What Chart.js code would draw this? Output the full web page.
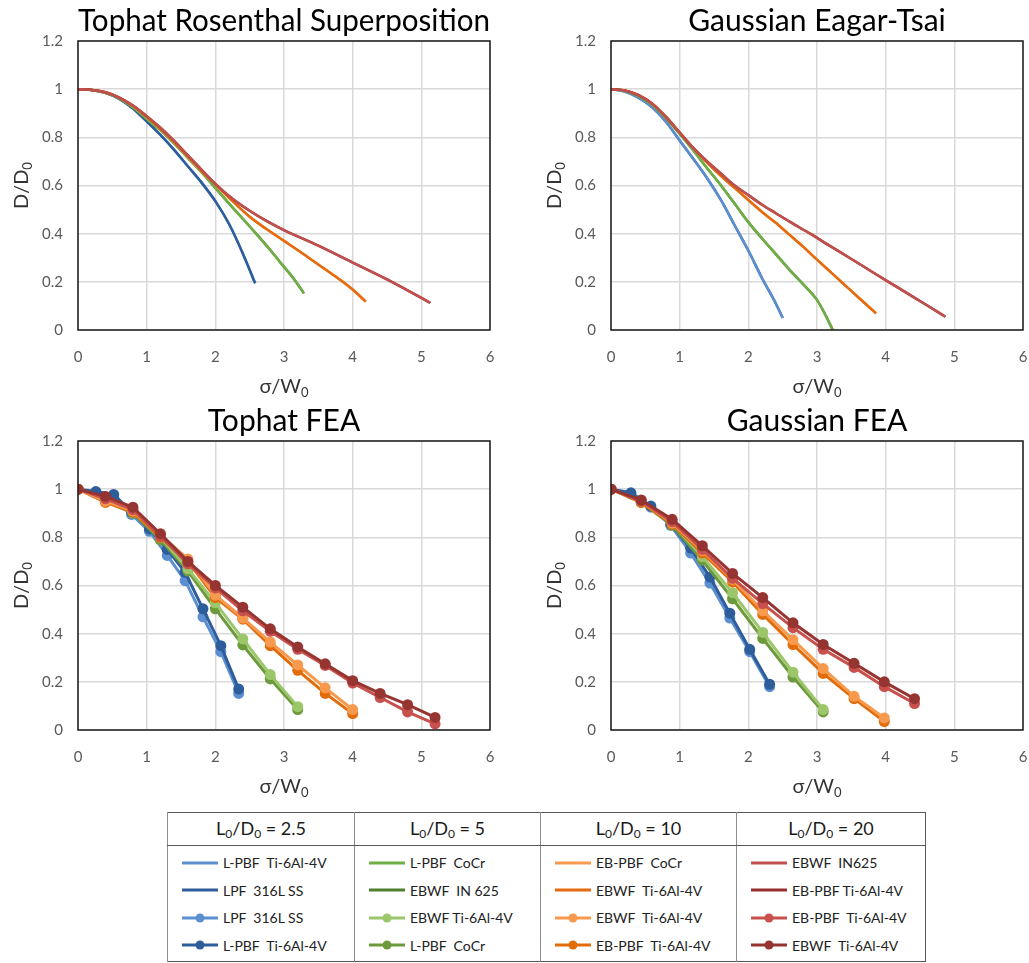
<!DOCTYPE html>
<html>
<head>
<meta charset="utf-8">
<script src="https://cdn.jsdelivr.net/npm/chart.js@4.4.1/dist/chart.umd.min.js"></script>
<style>
body { margin: 0; background: #fff; font-family: Lato, "Open Sans", sans-serif; }
#wrap { position: relative; width: 1029px; height: 963px; overflow: hidden; }
canvas { position: absolute; }
#legend { position: absolute; left: 167px; top: 812px; border-collapse: collapse; border: 1px solid #595959; }
#legend th { height: 32px; font-weight: normal; font-size: 18px; color: #1a1a1a; border-bottom: 1px solid #595959; border-left: 1px solid #8c8c8c; padding: 0; }
#legend td { vertical-align: top; border-left: 1px solid #8c8c8c; padding: 3px 0 2px 0; }
#legend sub { font-size: 12px; vertical-align: -3px; }
.item { height: 27.5px; display: flex; align-items: center; font-size: 14px; color: #222; white-space: pre; }
.item svg { margin: 0 5px 0 14px; }
</style>
</head>
<body>
<div id="wrap">
  <canvas id="c1" width="496" height="400" style="left:0;top:0"></canvas>
  <canvas id="c2" width="496" height="400" style="left:533px;top:0"></canvas>
  <canvas id="c3" width="496" height="400" style="left:0;top:400px"></canvas>
  <canvas id="c4" width="496" height="400" style="left:533px;top:400px"></canvas>
  <table id="legend">
    <thead><tr id="legHead"></tr></thead>
    <tbody><tr id="legBody"></tr></tbody>
  </table>
</div>
<script>
// axis ticks
const xTickLabels = ['0', '1', '2', '3', '4', '5', '6'];
const yTickLabels = ['0', '0.2', '0.4', '0.6', '0.8', '1', '1.2'];

// --- Tophat Rosenthal Superposition (sigma/W0 , D/D0) ---
const trsX25 = [0, 0.2, 0.4, 0.6, 0.8, 1.0, 1.2, 1.4, 1.6, 1.8, 2.0, 2.2, 2.4, 2.58];
const trsY25 = [1, 0.997, 0.985, 0.96, 0.92, 0.866, 0.81, 0.748, 0.68, 0.612, 0.535, 0.44, 0.318, 0.194];
const trsX5 = [0, 0.2, 0.4, 0.6, 0.8, 1.0, 1.2, 1.4, 1.6, 1.8, 2.0, 2.2, 2.4, 2.6, 2.8, 3.0, 3.15, 3.29];
const trsY5 = [1, 0.997, 0.985, 0.962, 0.925, 0.877, 0.83, 0.775, 0.715, 0.655, 0.59, 0.525, 0.462, 0.398, 0.332, 0.262, 0.21, 0.152];
const trsX10 = [0, 0.2, 0.4, 0.6, 0.8, 1.0, 1.2, 1.4, 1.6, 1.8, 2.0, 2.25, 2.5, 2.75, 3.0, 3.25, 3.5, 3.75, 4.0, 4.19];
const trsY10 = [1, 0.997, 0.987, 0.965, 0.93, 0.885, 0.835, 0.78, 0.72, 0.66, 0.605, 0.535, 0.47, 0.418, 0.37, 0.322, 0.272, 0.222, 0.168, 0.118];
const trsX20 = [0, 0.2, 0.4, 0.6, 0.8, 1.0, 1.2, 1.4, 1.6, 1.8, 2.0, 2.25, 2.5, 2.75, 3.0, 3.5, 4.0, 4.5, 5.13];
const trsY20 = [1, 0.997, 0.987, 0.965, 0.932, 0.888, 0.84, 0.785, 0.725, 0.665, 0.607, 0.545, 0.495, 0.452, 0.415, 0.35, 0.28, 0.21, 0.113];

// --- Gaussian Eagar-Tsai ---
const getX25 = [0, 0.2, 0.4, 0.6, 0.8, 1.0, 1.2, 1.4, 1.6, 1.8, 2.0, 2.2, 2.4, 2.5];
const getY25 = [1, 0.99, 0.965, 0.925, 0.865, 0.787, 0.71, 0.63, 0.54, 0.435, 0.33, 0.215, 0.11, 0.05];
const getX5 = [0, 0.2, 0.4, 0.6, 0.8, 1.0, 1.2, 1.4, 1.63, 1.8, 2.0, 2.2, 2.4, 2.6, 2.8, 3.0, 3.1, 3.23];
const getY5 = [1, 0.993, 0.972, 0.935, 0.88, 0.815, 0.745, 0.672, 0.59, 0.525, 0.448, 0.38, 0.315, 0.25, 0.19, 0.125, 0.075, 0];
const getX10 = [0, 0.2, 0.4, 0.6, 0.8, 1.0, 1.2, 1.4, 1.6, 1.8, 2.0, 2.2, 2.4, 2.58, 2.8, 3.0, 3.2, 3.4, 3.6, 3.86];
const getY10 = [1, 0.995, 0.975, 0.94, 0.885, 0.82, 0.755, 0.695, 0.64, 0.59, 0.54, 0.49, 0.445, 0.4, 0.345, 0.292, 0.24, 0.188, 0.136, 0.069];
const getX20 = [0, 0.2, 0.4, 0.6, 0.8, 1.0, 1.2, 1.4, 1.6, 1.8, 2.0, 2.2, 2.4, 2.6, 2.9, 3.2, 3.5, 3.8, 4.04, 4.3, 4.6, 4.87];
const getY20 = [1, 0.995, 0.975, 0.94, 0.885, 0.82, 0.755, 0.7, 0.65, 0.6, 0.56, 0.52, 0.485, 0.45, 0.4, 0.347, 0.295, 0.242, 0.2, 0.155, 0.103, 0.055];

// --- Tophat FEA ---
const tfX25 = [0, 0.26, 0.52, 0.78, 1.04, 1.3, 1.56, 1.82, 2.08, 2.34];
const tfLpfSS = [1, 0.985, 0.965, 0.895, 0.825, 0.725, 0.62, 0.47, 0.325, 0.152];
const tfLpbfTi = [1, 0.99, 0.978, 0.905, 0.835, 0.75, 0.655, 0.503, 0.35, 0.17];
const tfX5 = [0, 0.4, 0.8, 1.2, 1.6, 2.0, 2.4, 2.8, 3.2];
const tfEbwfTi5 = [1, 0.955, 0.905, 0.8, 0.67, 0.528, 0.378, 0.23, 0.097];
const tfLpbfCoCr = [1, 0.95, 0.9, 0.79, 0.66, 0.503, 0.353, 0.212, 0.085];
const tfX10 = [0, 0.4, 0.8, 1.2, 1.6, 2.0, 2.4, 2.8, 3.2, 3.6, 4.0];
const tfEbwfTi10 = [1, 0.95, 0.91, 0.81, 0.71, 0.56, 0.465, 0.365, 0.27, 0.175, 0.085];
const tfEbpbfTi10 = [1, 0.945, 0.905, 0.8, 0.7, 0.55, 0.46, 0.35, 0.248, 0.152, 0.068];
const tfX20 = [0, 0.4, 0.8, 1.2, 1.6, 2.0, 2.4, 2.8, 3.2, 3.6, 4.0, 4.4, 4.8, 5.2];
const tfEbpbfTi20 = [1, 0.96, 0.915, 0.805, 0.69, 0.59, 0.495, 0.41, 0.335, 0.268, 0.195, 0.135, 0.075, 0.025];
const tfEbwfTi20 = [1, 0.97, 0.925, 0.815, 0.7, 0.6, 0.51, 0.42, 0.345, 0.275, 0.205, 0.152, 0.105, 0.052];

// --- Gaussian FEA ---
const gfX25 = [0, 0.29, 0.58, 0.87, 1.16, 1.44, 1.73, 2.02, 2.31];
const gfLpfSS = [1, 0.98, 0.925, 0.85, 0.735, 0.61, 0.465, 0.325, 0.18];
const gfLpbfTi = [1, 0.985, 0.93, 0.855, 0.755, 0.635, 0.485, 0.335, 0.19];
const gfX5 = [0, 0.44, 0.89, 1.33, 1.77, 2.21, 2.65, 3.09];
const gfEbwfTi5 = [1, 0.95, 0.86, 0.72, 0.57, 0.405, 0.24, 0.085];
const gfLpbfCoCr = [1, 0.945, 0.85, 0.705, 0.545, 0.38, 0.22, 0.075];
const gfX10 = [0, 0.44, 0.89, 1.33, 1.77, 2.21, 2.65, 3.09, 3.54, 3.98];
const gfEbwfTi10 = [1, 0.95, 0.86, 0.745, 0.625, 0.495, 0.375, 0.255, 0.14, 0.05];
const gfEbpbfTi10 = [1, 0.945, 0.855, 0.735, 0.615, 0.48, 0.355, 0.235, 0.13, 0.035];
const gfX20 = [0, 0.44, 0.89, 1.33, 1.77, 2.21, 2.65, 3.09, 3.54, 3.98, 4.42];
const gfEbpbfTi20 = [1, 0.95, 0.865, 0.75, 0.63, 0.525, 0.425, 0.335, 0.26, 0.18, 0.11];
const gfEbwfTi20 = [1, 0.955, 0.875, 0.765, 0.65, 0.55, 0.445, 0.355, 0.277, 0.2, 0.13];

// colours
const col = {
  blueL: '#5B8FD0', blueD: '#2E5D9B', blueM1: '#5B8FD0', blueM2: '#2E5D9B',
  greenL: '#6FAF46', greenD: '#4E7F2F', greenM1: '#9CC66A', greenM2: '#6E9A3E',
  orangeL: '#F79A4E', orangeD: '#E56B0E', orangeM1: '#F79A4E', orangeM2: '#E36C0A',
  redL: '#C0504D', redD: '#97302E', redM1: '#C8504D', redM2: '#953430'
};

Chart.defaults.font.family = 'Lato, "Open Sans", sans-serif';

function pts(xs, ys) {
  return xs.map((x, i) => ({ x: x, y: ys[i] }));
}
function curve(xs, ys, color) {
  return { data: pts(xs, ys), borderColor: color, backgroundColor: color, borderWidth: 2.5,
    pointRadius: 0, showLine: true, cubicInterpolationMode: 'monotone' };
}
function fea(xs, ys, color) {
  return { data: pts(xs, ys), borderColor: color, backgroundColor: color, borderWidth: 3,
    pointRadius: 5.5, pointBorderWidth: 0, pointBorderColor: color, showLine: true, tension: 0 };
}

function subText(ctx, main, sub, cx, base) {
  ctx.font = '20px Lato';
  const w1 = ctx.measureText(main).width;
  ctx.font = '13px Lato';
  const w2 = ctx.measureText(sub).width;
  const x = cx - (w1 + w2) / 2;
  ctx.textAlign = 'left';
  ctx.textBaseline = 'alphabetic';
  ctx.font = '20px Lato';
  ctx.fillText(main, x, base);
  ctx.font = '13px Lato';
  ctx.fillText(sub, x + w1, base + 4);
}

// frame around plot area + axis titles with subscripts
const frame = {
  id: 'frame',
  afterDraw(chart) {
    const ctx = chart.ctx, a = chart.chartArea;
    ctx.save();
    ctx.strokeStyle = '#1a1a1a';
    ctx.lineWidth = 1.5;
    ctx.strokeRect(a.left, a.top, a.right - a.left, a.bottom - a.top);
    ctx.fillStyle = '#333';
    subText(ctx, 'σ/W', '0', (a.left + a.right) / 2, a.bottom + 63);
    ctx.translate(a.left - 50, (a.top + a.bottom) / 2);
    ctx.rotate(-Math.PI / 2);
    subText(ctx, 'D/D', '0', 0, 0);
    ctx.restore();
  }
};

function makeChart(id, title, datasets) {
  new Chart(document.getElementById(id), {
    type: 'scatter',
    data: { datasets: datasets },
    options: {
      responsive: false,
      animation: false,
      layout: { padding: { right: 6 } },
      plugins: {
        legend: { display: false },
        tooltip: { enabled: false },
        title: { display: true, text: title, fullSize: false, color: '#000',
          font: { size: 30, weight: 'normal' }, padding: { top: 3, bottom: 2 } }
      },
      scales: {
        x: {
          type: 'linear', min: 0, max: 6,
          ticks: { stepSize: 1, padding: 18, color: '#595959', font: { size: 15 },
            callback: (v, i) => xTickLabels[i] },
          grid: { color: '#D9D9D9', lineWidth: 1.5, drawTicks: false },
          border: { display: false },
          afterFit: s => { s.height = 70; s.paddingLeft = 0; s.paddingRight = 0; }
        },
        y: {
          min: 0, max: 1.2,
          ticks: { stepSize: 0.2, padding: 15, color: '#595959', font: { size: 15 },
            callback: (v, i) => yTickLabels[i] },
          grid: { color: '#D9D9D9', lineWidth: 1.5, drawTicks: false },
          border: { display: false },
          afterFit: s => { s.width = 78; }
        }
      }
    },
    plugins: [frame]
  });
}

// first dataset is drawn on top
makeChart('c1', 'Tophat Rosenthal Superposition', [
  curve(trsX20, trsY20, col.redL), curve(trsX20, trsY20, col.redD),
  curve(trsX10, trsY10, col.orangeD), curve(trsX10, trsY10, col.orangeL),
  curve(trsX5, trsY5, col.greenL), curve(trsX5, trsY5, col.greenD),
  curve(trsX25, trsY25, col.blueD), curve(trsX25, trsY25, col.blueL)
]);
makeChart('c2', 'Gaussian Eagar-Tsai', [
  curve(getX20, getY20, col.redL), curve(getX20, getY20, col.redD),
  curve(getX10, getY10, col.orangeD), curve(getX10, getY10, col.orangeL),
  curve(getX5, getY5, col.greenL), curve(getX5, getY5, col.greenD),
  curve(getX25, getY25, col.blueL), curve(getX25, getY25, col.blueD)
]);
makeChart('c3', 'Tophat FEA', [
  fea(tfX20, tfEbwfTi20, col.redM2), fea(tfX20, tfEbpbfTi20, col.redM1),
  fea(tfX10, tfEbwfTi10, col.orangeM1), fea(tfX10, tfEbpbfTi10, col.orangeM2),
  fea(tfX5, tfEbwfTi5, col.greenM1), fea(tfX5, tfLpbfCoCr, col.greenM2),
  fea(tfX25, tfLpbfTi, col.blueM2), fea(tfX25, tfLpfSS, col.blueM1)
]);
makeChart('c4', 'Gaussian FEA', [
  fea(gfX20, gfEbwfTi20, col.redM2), fea(gfX20, gfEbpbfTi20, col.redM1),
  fea(gfX10, gfEbwfTi10, col.orangeM1), fea(gfX10, gfEbpbfTi10, col.orangeM2),
  fea(gfX5, gfEbwfTi5, col.greenM1), fea(gfX5, gfLpbfCoCr, col.greenM2),
  fea(gfX25, gfLpbfTi, col.blueM2), fea(gfX25, gfLpfSS, col.blueM1)
]);

// legend table
const legendRatios = ['2.5', '5', '10', '20'];
const legendWidths = [186, 185, 195, 188];
const legendItems = [
  [['L-PBF  Ti-6Al-4V', col.blueL, 0], ['LPF  316L SS', col.blueD, 0], ['LPF  316L SS', col.blueM1, 1], ['L-PBF  Ti-6Al-4V', col.blueM2, 1]],
  [['L-PBF  CoCr', col.greenL, 0], ['EBWF  IN 625', col.greenD, 0], ['EBWF Ti-6Al-4V', col.greenM1, 1], ['L-PBF  CoCr', col.greenM2, 1]],
  [['EB-PBF  CoCr', col.orangeL, 0], ['EBWF  Ti-6Al-4V', col.orangeD, 0], ['EBWF  Ti-6Al-4V', col.orangeM1, 1], ['EB-PBF  Ti-6Al-4V', col.orangeM2, 1]],
  [['EBWF  IN625', col.redL, 0], ['EB-PBF Ti-6Al-4V', col.redD, 0], ['EB-PBF  Ti-6Al-4V', col.redM1, 1], ['EBWF  Ti-6Al-4V', col.redM2, 1]]
];
let head = '', body = '';
legendRatios.forEach((r, c) => {
  head += '<th style="width:' + legendWidths[c] + 'px">L<sub>0</sub>/D<sub>0</sub> = ' + r + '</th>';
  let cell = '';
  legendItems[c].forEach(it => {
    const dot = it[2] ? '<circle cx="18" cy="5" r="4.5" fill="' + it[1] + '"/>' : '';
    cell += '<div class="item"><svg width="36" height="10"><line x1="0" y1="5" x2="36" y2="5" stroke="' + it[1] +
      '" stroke-width="3"/>' + dot + '</svg>' + it[0] + '</div>';
  });
  body += '<td>' + cell + '</td>';
});
document.getElementById('legHead').innerHTML = head;
document.getElementById('legBody').innerHTML = body;
</script>
</body>
</html>
